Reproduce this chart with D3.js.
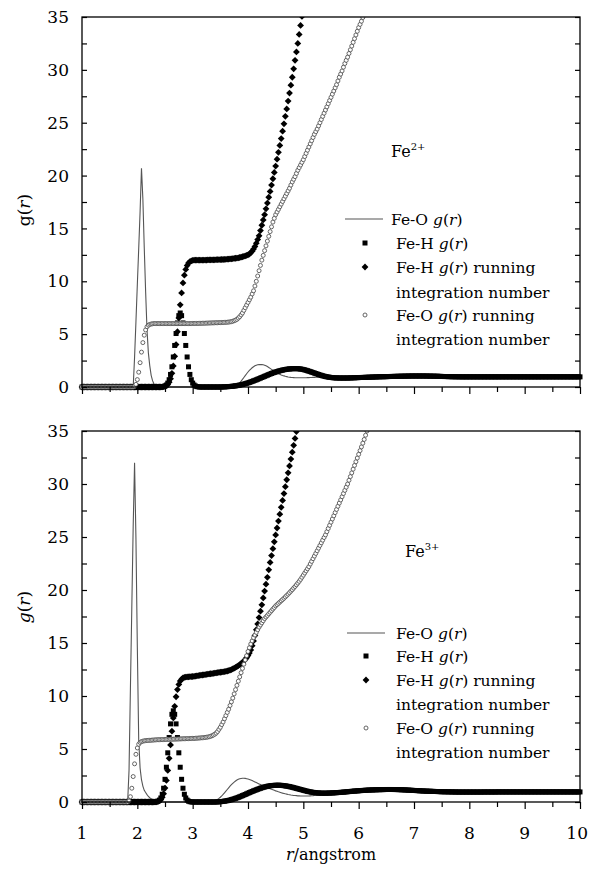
<!DOCTYPE html>
<html>
<head>
<meta charset="utf-8">
<script src="https://cdn.jsdelivr.net/npm/d3@7"></script>
<style>
  body { margin: 0; background: #fff; }
  svg { display: block; }
</style>
</head>
<body>
<svg width="589" height="869"></svg>
<script>
// r grid: r = rStart + i * rStep
var rStart = 1, rStep = 0.025;
var xTicks = [1, 2, 3, 4, 5, 6, 7, 8, 9, 10];
var yTicks = [0, 5, 10, 15, 20, 25, 30, 35];

// ---- Fe2+ panel ----
var fe2_FeO_g = [
  0,0,0,0,0,0,0,0,0,0,0,0,0,0,0,0,0,0,0,0,
  0,0,0,0,0,0,0,0,0,0,0,0,0,0,0,0,0,0,2.8,6.2,
  9.7,13.1,16.6,20.7,17.8,13.2,9.0,5.4,3.2,2.0,1.1,0.6,0.3,0.15,0.05,0.02,0,0,0,0,
  0,0,0,0,0,0,0,0,0,0,0,0,0,0,0,0,0,0,0,0,
  0,0,0,0,0,0,0,0,0,0,0,0,0,0,0,0,0,0,0,0,
  0,0,0,0,0,0,0,0,0,0.02,0.05,0.1,0.17,0.27,0.4,0.55,0.72,0.9,1.08,1.25,
  1.42,1.57,1.7,1.82,1.92,2.0,2.06,2.1,2.12,2.13,2.12,2.1,2.06,2.0,1.93,1.85,1.76,1.67,1.58,1.49,
  1.41,1.33,1.26,1.2,1.14,1.09,1.05,1.01,0.98,0.95,0.93,0.91,0.9,0.89,0.88,0.88,0.87,0.87,0.87,0.87,
  0.87,0.88,0.88,0.89,0.89,0.9,0.9,0.91,0.91,0.92,0.92,0.93,0.93,0.93,0.94,0.94,0.94,0.95,0.95,0.95,
  0.95,0.95,0.95,0.96,0.96,0.96,0.96,0.96,0.97,0.97,0.97,0.97,0.97,0.97,0.98,0.98,0.98,0.98,0.98,0.98,
  0.98,0.98,0.98,0.98,0.98,0.98,0.98,0.98,0.98,0.98,0.99,0.99,0.99,0.99,0.99,0.99,0.99,0.99,0.99,0.99,
  0.99,0.99,0.99,0.99,0.99,0.99,0.99,0.99,0.99,0.99,0.99,0.99,0.99,0.99,0.99,0.99,0.99,0.99,0.99,0.99,
  0.99,0.99,0.99,0.99,0.99,0.99,0.99,0.99,0.99,0.99,0.98,0.98,0.98,0.98,0.98,0.98,0.98,0.98,0.98,0.98,
  0.97,0.97,0.97,0.97,0.97,0.97,0.97,0.97,0.97,0.97,0.97,0.97,0.97,0.97,0.97,0.97,0.97,0.97,0.97,0.97,
  0.97,0.97,0.97,0.97,0.97,0.97,0.97,0.97,0.97,0.97,0.97,0.97,0.97,0.97,0.97,0.97,0.97,0.97,0.97,0.97,
  0.97,0.97,0.97,0.97,0.97,0.97,0.97,0.97,0.97,0.97,0.97,0.97,0.97,0.97,0.97,0.97,0.97,0.97,0.97,0.97,
  0.97,0.97,0.97,0.97,0.97,0.97,0.97,0.97,0.97,0.97,0.97,0.97,0.97,0.97,0.97,0.97,0.97,0.97,0.97,0.97,
  0.97,0.97,0.97,0.97,0.97,0.97,0.97,0.97,0.97,0.97,0.97,0.97,0.97,0.97,0.97,0.97,0.97,0.97,0.97,0.97,
  0.97
];
var fe2_FeH_g = [
  0,0,0,0,0,0,0,0,0,0,0,0,0,0,0,0,0,0,0,0,
  0,0,0,0,0,0,0,0,0,0,0,0,0,0,0,0,0,0,0,0,
  0,0,0,0,0,0,0,0,0,0,0,0,0,0,0,0,0,0,0.02,0.04,
  0.09,0.19,0.37,0.69,1.19,1.91,2.84,3.93,5.06,6.06,6.75,7.0,6.75,6.06,5.06,3.93,2.84,1.91,1.19,0.69,
  0.37,0.19,0.09,0.04,0.02,0,0,0,0,0,0,0,0,0,0,0,0,0,0,0,
  0,0.005,0.01,0.015,0.02,0.03,0.04,0.05,0.06,0.075,0.09,0.11,0.13,0.155,0.18,0.21,0.24,0.275,0.31,0.35,
  0.39,0.435,0.48,0.53,0.58,0.63,0.68,0.735,0.79,0.845,0.9,0.955,1.01,1.065,1.12,1.175,1.23,1.28,1.33,1.375,
  1.42,1.46,1.5,1.535,1.57,1.6,1.63,1.655,1.68,1.695,1.71,1.72,1.73,1.735,1.74,1.735,1.73,1.72,1.7,1.68,
  1.65,1.62,1.58,1.54,1.5,1.455,1.41,1.365,1.32,1.275,1.23,1.185,1.14,1.1,1.06,1.025,0.99,0.965,0.94,0.92,
  0.9,0.885,0.87,0.865,0.86,0.855,0.85,0.85,0.85,0.85,0.85,0.85,0.85,0.855,0.86,0.865,0.87,0.875,0.88,0.885,
  0.89,0.9,0.9,0.905,0.91,0.915,0.92,0.925,0.93,0.935,0.94,0.945,0.95,0.955,0.96,0.965,0.97,0.97,0.975,0.975,
  0.98,0.985,0.99,0.995,1.0,1.0,1.005,1.01,1.01,1.015,1.02,1.02,1.025,1.025,1.03,1.03,1.035,1.035,1.04,1.04,
  1.04,1.04,1.04,1.04,1.04,1.04,1.04,1.04,1.04,1.035,1.035,1.03,1.03,1.025,1.025,1.02,1.02,1.015,1.01,1.005,
  1.0,0.995,0.99,0.99,0.985,0.98,0.98,0.975,0.97,0.97,0.97,0.965,0.965,0.965,0.96,0.96,0.96,0.96,0.96,0.96,
  0.96,0.96,0.96,0.96,0.96,0.96,0.96,0.96,0.96,0.96,0.96,0.96,0.96,0.96,0.96,0.96,0.96,0.96,0.96,0.96,
  0.96,0.96,0.96,0.96,0.96,0.96,0.96,0.96,0.96,0.96,0.96,0.96,0.96,0.96,0.96,0.96,0.96,0.96,0.96,0.96,
  0.96,0.96,0.96,0.96,0.96,0.96,0.96,0.96,0.96,0.96,0.96,0.96,0.96,0.96,0.96,0.96,0.96,0.96,0.96,0.96,
  0.96,0.96,0.96,0.96,0.96,0.96,0.96,0.96,0.96,0.96,0.96,0.96,0.96,0.96,0.96,0.96,0.96,0.96,0.96,0.96,
  0.96
];
var fe2_FeH_n = [
  0,0,0,0,0,0,0,0,0,0,0,0,0,0,0,0,0,0,0,0,
  0,0,0,0,0,0,0,0,0,0,0,0,0,0,0,0,0,0,0,0,
  0,0,0,0,0,0,0,0,0,0,0,0,0,0,0,0,0,0,0.01,0.03,
  0.06,0.12,0.25,0.46,0.79,1.29,1.99,2.9,4.01,5.23,6.53,7.77,8.9,9.84,10.58,11.12,11.49,11.72,11.86,11.93,
  11.97,12.0,12.0,12.0,12.0,12.0,12.0,12.0,12.01,12.01,12.01,12.02,12.02,12.02,12.03,12.03,12.03,12.04,12.04,12.05,
  12.05,12.06,12.06,12.07,12.08,12.09,12.1,12.11,12.12,12.14,12.16,12.18,12.2,12.22,12.25,12.28,12.32,12.36,12.4,12.45,
  12.5,12.58,12.7,12.85,13.05,13.3,13.6,13.95,14.3,14.8,15.3,15.8,16.3,16.85,17.4,17.95,18.5,19.1,19.7,20.3,
  20.9,21.55,22.2,22.85,23.5,24.2,24.9,25.6,26.3,27.05,27.8,28.55,29.3,30.1,30.9,31.7,32.5,33.35,34.2,35.05,
  35.9
];
var fe2_FeO_n = [
  0,0,0,0,0,0,0,0,0,0,0,0,0,0,0,0,0,0,0,0,
  0,0,0,0,0,0,0,0,0,0,0,0,0,0,0,0,0,0,0.05,0.25,
  0.7,1.4,2.3,3.3,4.2,4.9,5.4,5.7,5.85,5.92,5.96,5.98,6.0,6.0,6.0,6.0,6.0,6.0,6.0,6.0,
  6.0,6.0,6.0,6.0,6.0,6.0,6.0,6.0,6.0,6.0,6.0,6.0,6.0,6.0,6.0,6.0,6.0,6.0,6.0,6.0,
  6.01,6.01,6.01,6.02,6.02,6.02,6.03,6.03,6.03,6.04,6.04,6.05,6.05,6.06,6.06,6.07,6.07,6.08,6.08,6.09,
  6.09,6.1,6.1,6.11,6.12,6.13,6.14,6.16,6.18,6.22,6.27,6.33,6.4,6.52,6.65,6.82,7.0,7.25,7.5,7.75,
  8.0,8.25,8.5,8.8,9.1,9.55,10.0,10.5,11.0,11.5,12.0,12.45,12.9,13.35,13.8,14.25,14.7,15.15,15.6,15.95,
  16.3,16.55,16.8,17.05,17.3,17.55,17.8,18.05,18.3,18.55,18.8,19.1,19.4,19.65,19.9,20.2,20.5,20.75,21.0,21.25,
  21.5,21.8,22.1,22.4,22.7,23.0,23.3,23.6,23.9,24.15,24.4,24.7,25.0,25.3,25.6,25.9,26.2,26.5,26.8,27.1,
  27.4,27.7,28.0,28.3,28.6,28.95,29.3,29.6,29.9,30.25,30.6,30.9,31.2,31.55,31.9,32.25,32.6,32.95,33.3,33.65,
  34.0,34.3,34.6,34.95,35.3
];

// ---- Fe3+ panel ----
var fe3_FeO_g = [
  0,0,0,0,0,0,0,0,0,0,0,0,0,0,0,0,0,0,0,0,
  0,0,0,0,0,0,0,0,0,0,0,0,0,0,3.0,10.7,18.3,26.0,32.0,24.8,
  14.6,5.8,3.2,2.1,1.5,1.1,0.9,0.7,0.52,0.4,0.3,0.22,0.15,0.1,0.06,0.03,0.01,0,0,0,
  0,0,0,0,0,0,0,0,0,0,0,0,0,0,0,0,0,0,0,0,
  0,0,0,0,0,0,0,0,0,0,0,0,0,0,0.02,0.05,0.1,0.16,0.24,0.34,
  0.45,0.58,0.72,0.87,1.02,1.18,1.34,1.49,1.63,1.76,1.88,1.98,2.07,2.14,2.19,2.22,2.24,2.24,2.23,2.2,
  2.17,2.13,2.08,2.02,1.95,1.89,1.83,1.76,1.7,1.64,1.58,1.53,1.47,1.41,1.36,1.3,1.25,1.2,1.15,1.1,
  1.05,1.01,0.96,0.92,0.88,0.84,0.81,0.77,0.74,0.71,0.69,0.66,0.64,0.62,0.61,0.6,0.58,0.58,0.57,0.57,
  0.56,0.56,0.56,0.57,0.57,0.58,0.59,0.6,0.62,0.63,0.65,0.67,0.69,0.71,0.73,0.75,0.77,0.79,0.81,0.83,
  0.85,0.87,0.88,0.9,0.91,0.93,0.94,0.95,0.96,0.97,0.98,0.99,1.0,1.0,1.01,1.01,1.02,1.02,1.02,1.03,
  1.03,1.03,1.03,1.03,1.03,1.03,1.03,1.03,1.03,1.03,1.02,1.02,1.02,1.02,1.02,1.02,1.02,1.02,1.02,1.02,
  1.01,1.01,1.01,1.01,1.01,1.01,1.01,1.01,1.01,1.01,1.0,1.0,1.0,1.0,1.0,1.0,1.0,1.0,1.0,1.0,
  0.99,0.99,0.99,0.99,0.99,0.99,0.99,0.99,0.99,0.99,0.99,0.99,0.99,0.99,0.99,0.99,0.99,0.99,0.99,0.99,
  0.98,0.98,0.98,0.98,0.98,0.98,0.98,0.98,0.98,0.98,0.98,0.98,0.98,0.98,0.98,0.98,0.98,0.98,0.98,0.98,
  0.97,0.97,0.97,0.97,0.97,0.97,0.97,0.97,0.97,0.97,0.97,0.97,0.97,0.97,0.97,0.97,0.97,0.97,0.97,0.97,
  0.97,0.97,0.97,0.97,0.97,0.97,0.97,0.97,0.97,0.97,0.97,0.97,0.97,0.97,0.97,0.97,0.97,0.97,0.97,0.97,
  0.97,0.97,0.97,0.97,0.97,0.97,0.97,0.97,0.97,0.97,0.97,0.97,0.97,0.97,0.97,0.97,0.97,0.97,0.97,0.97,
  0.97,0.97,0.97,0.97,0.97,0.97,0.97,0.97,0.97,0.97,0.97,0.97,0.97,0.97,0.97,0.97,0.97,0.97,0.97,0.97,
  0.97
];
var fe3_FeH_g = [
  0,0,0,0,0,0,0,0,0,0,0,0,0,0,0,0,0,0,0,0,
  0,0,0,0,0,0,0,0,0,0,0,0,0,0,0,0,0,0,0,0,
  0,0,0,0,0,0,0,0,0,0,0,0,0,0.01,0.03,0.08,0.18,0.38,0.73,1.3,
  2.14,3.28,4.64,6.08,7.37,8.27,8.6,8.27,7.37,6.08,4.64,3.28,2.14,1.3,0.73,0.38,0.18,0.08,0.03,0.01,
  0,0,0,0,0,0,0,0,0,0,0,0,0,0,0,0,0,0.005,0.01,0.02,
  0.03,0.045,0.06,0.08,0.1,0.125,0.15,0.185,0.22,0.26,0.3,0.345,0.39,0.44,0.49,0.545,0.6,0.655,0.71,0.77,
  0.83,0.885,0.94,0.995,1.05,1.1,1.15,1.2,1.25,1.295,1.34,1.38,1.42,1.45,1.48,1.505,1.53,1.545,1.56,1.57,
  1.58,1.58,1.58,1.58,1.57,1.555,1.54,1.52,1.5,1.475,1.45,1.42,1.39,1.355,1.32,1.285,1.25,1.215,1.18,1.145,
  1.11,1.075,1.04,1.01,0.98,0.955,0.93,0.91,0.89,0.875,0.86,0.85,0.84,0.835,0.83,0.83,0.83,0.835,0.84,0.845,
  0.85,0.857,0.865,0.872,0.88,0.89,0.9,0.91,0.92,0.932,0.945,0.957,0.97,0.982,0.995,1.007,1.02,1.03,1.04,1.05,
  1.06,1.07,1.08,1.09,1.1,1.107,1.115,1.122,1.13,1.135,1.14,1.145,1.15,1.155,1.16,1.163,1.166,1.169,1.172,1.176,
  1.18,1.18,1.18,1.18,1.18,1.178,1.176,1.174,1.172,1.166,1.16,1.155,1.15,1.143,1.135,1.128,1.12,1.112,1.105,1.097,
  1.09,1.082,1.075,1.067,1.06,1.052,1.045,1.037,1.03,1.025,1.02,1.015,1.01,1.005,1.0,0.995,0.99,0.985,0.98,0.975,
  0.97,0.967,0.965,0.962,0.96,0.957,0.955,0.952,0.95,0.947,0.945,0.942,0.94,0.94,0.94,0.94,0.94,0.94,0.94,0.94,
  0.94,0.94,0.94,0.94,0.94,0.94,0.94,0.94,0.94,0.94,0.945,0.945,0.945,0.945,0.945,0.945,0.945,0.945,0.945,0.945,
  0.95,0.95,0.95,0.95,0.95,0.95,0.95,0.95,0.95,0.95,0.95,0.95,0.95,0.95,0.95,0.95,0.95,0.95,0.95,0.95,
  0.95,0.95,0.95,0.95,0.95,0.95,0.95,0.95,0.95,0.95,0.95,0.95,0.95,0.95,0.95,0.95,0.95,0.95,0.95,0.95,
  0.95,0.95,0.95,0.95,0.95,0.95,0.95,0.95,0.95,0.95,0.95,0.95,0.95,0.95,0.95,0.95,0.95,0.95,0.95,0.95,
  0.95
];
var fe3_FeH_n = [
  0,0,0,0,0,0,0,0,0,0,0,0,0,0,0,0,0,0,0,0,
  0,0,0,0,0,0,0,0,0,0,0,0,0,0,0,0,0,0,0,0,
  0,0,0,0,0,0,0,0,0,0,0,0,0,0.01,0.02,0.05,0.12,0.23,0.44,0.79,
  1.31,2.04,2.98,4.12,5.38,6.68,7.93,9.03,9.93,10.61,11.09,11.41,11.59,11.7,11.76,11.78,11.8,11.81,11.82,11.83,
  11.84,11.86,11.88,11.9,11.92,11.94,11.96,11.98,12.0,12.02,12.04,12.06,12.08,12.1,12.12,12.14,12.16,12.18,12.2,12.22,
  12.24,12.26,12.28,12.3,12.33,12.36,12.4,12.44,12.49,12.55,12.62,12.7,12.78,12.86,12.95,13.05,13.17,13.3,13.45,13.62,
  13.82,14.05,14.35,14.75,15.2,15.7,16.25,16.8,17.4,18.0,18.6,19.25,19.9,20.55,21.2,21.9,22.6,23.25,23.9,24.55,
  25.2,25.85,26.5,27.15,27.8,28.45,29.1,29.75,30.4,31.05,31.7,32.35,33.0,33.65,34.3,34.95,35.6
];
var fe3_FeO_n = [
  0,0,0,0,0,0,0,0,0,0,0,0,0,0,0,0,0,0,0,0,
  0,0,0,0,0,0,0,0,0,0,0,0,0,0,0.1,0.5,1.3,2.4,3.6,4.5,
  5.1,5.45,5.62,5.7,5.74,5.77,5.79,5.8,5.81,5.82,5.83,5.84,5.85,5.86,5.87,5.87,5.88,5.88,5.89,5.89,
  5.9,5.9,5.91,5.91,5.92,5.92,5.93,5.93,5.94,5.94,5.95,5.95,5.96,5.96,5.97,5.97,5.98,5.98,5.99,5.99,
  6.0,6.0,6.01,6.02,6.03,6.04,6.05,6.06,6.07,6.09,6.11,6.13,6.16,6.2,6.25,6.32,6.4,6.5,6.65,6.85,
  7.05,7.3,7.55,7.85,8.15,8.45,8.75,9.1,9.45,9.8,10.2,10.6,11.0,11.4,11.8,12.2,12.6,13.0,13.4,13.8,
  14.2,14.55,14.9,15.2,15.5,15.75,16.0,16.25,16.5,16.7,16.9,17.1,17.3,17.45,17.6,17.75,17.9,18.05,18.2,18.35,
  18.5,18.62,18.74,18.86,18.98,19.1,19.22,19.35,19.48,19.61,19.75,19.89,20.03,20.18,20.33,20.49,20.65,20.82,21.0,21.2,
  21.4,21.6,21.8,22.0,22.2,22.45,22.7,22.95,23.2,23.45,23.7,23.95,24.2,24.45,24.7,24.95,25.2,25.5,25.8,26.1,
  26.4,26.7,27.0,27.3,27.6,27.9,28.2,28.5,28.8,29.1,29.4,29.7,30.0,30.35,30.7,31.05,31.4,31.75,32.1,32.45,
  32.8,33.15,33.5,33.85,34.2,34.6,35.0,35.4
];

var legendLabels = [
  ["Fe-O ", "g(r)", ""],
  ["Fe-H ", "g(r)", ""],
  ["Fe-H ", "g(r)", " running"],
  ["integration number"],
  ["Fe-O ", "g(r)", " running"],
  ["integration number"]
];

var serif = "DejaVu Serif";

var svg = d3.select("svg");
var left = 82, right = 580;

var x = d3.scaleLinear().domain([1, 10]).range([left, right]);

var panels = [
  { top: 17, bottom: 387, charge: "2+", ionX: 391, ionY: 157, titleY: 210, italicG: false,
    lineX: [345, 383], markX: 365, textX: [391, 396, 396, 396, 396, 396],
    rows: [219, 243, 267, 291.5, 315, 339],
    FeO_g: fe2_FeO_g, FeH_g: fe2_FeH_g, FeH_n: fe2_FeH_n, FeO_n: fe2_FeO_n, xLabels: false },
  { top: 431, bottom: 802, charge: "3+", ionX: 405, ionY: 557, titleY: 607, italicG: true,
    lineX: [347, 385], markX: 366, textX: [396, 396, 396, 396, 396, 396],
    rows: [633, 656, 680, 703.5, 728, 752],
    FeO_g: fe3_FeO_g, FeH_g: fe3_FeH_g, FeH_n: fe3_FeH_n, FeO_n: fe3_FeO_n, xLabels: true }
];

function toPoints(arr) {
  return arr.map(function(v, i) { return { r: rStart + i * rStep, v: v }; });
}

var diamond = d3.symbol().type(d3.symbolSquare).size(23);
var sq = 5;
var circR = 2.0;

panels.forEach(function(p, k) {
  var y = d3.scaleLinear().domain([0, 35]).range([p.bottom, p.top]);
  var g = svg.append("g");

  var clipId = "clip" + k;
  svg.append("clipPath").attr("id", clipId)
    .append("rect")
    .attr("x", left - 6).attr("y", p.top)
    .attr("width", right - left + 12).attr("height", p.bottom - p.top + 8);

  var plot = g.append("g").attr("clip-path", "url(#" + clipId + ")");

  // Fe-O g(r) line
  plot.append("path")
    .datum(toPoints(p.FeO_g))
    .attr("fill", "none")
    .attr("stroke", "#555")
    .attr("stroke-width", 1.1)
    .attr("d", d3.line().x(function(d) { return x(d.r); }).y(function(d) { return y(d.v); }));

  // Fe-H g(r) squares
  plot.append("g").selectAll("rect")
    .data(toPoints(p.FeH_g))
    .enter().append("rect")
    .attr("x", function(d) { return x(d.r) - sq / 2; })
    .attr("y", function(d) { return y(d.v) - sq / 2; })
    .attr("width", sq).attr("height", sq)
    .attr("fill", "#000");

  // Fe-H running integration number (diamonds)
  plot.append("g").selectAll("path")
    .data(toPoints(p.FeH_n))
    .enter().append("path")
    .attr("d", diamond)
    .attr("transform", function(d) { return "translate(" + x(d.r) + "," + y(d.v) + ") rotate(45)"; })
    .attr("fill", "#000");

  // Fe-O running integration number (open circles)
  plot.append("g").selectAll("circle")
    .data(toPoints(p.FeO_n))
    .enter().append("circle")
    .attr("cx", function(d) { return x(d.r); })
    .attr("cy", function(d) { return y(d.v); })
    .attr("r", circR)
    .attr("fill", "#fff")
    .attr("stroke", "#555")
    .attr("stroke-width", 0.9);

  // frame
  g.append("rect")
    .attr("x", left).attr("y", p.top)
    .attr("width", right - left).attr("height", p.bottom - p.top)
    .attr("fill", "none").attr("stroke", "#000").attr("stroke-width", 1.3);

  // y ticks, inward on both sides
  var yMinor = d3.range(0, 35.1, 2.5);
  g.append("g").attr("transform", "translate(" + left + ",0)")
    .call(d3.axisRight(y).tickValues(yMinor).tickSize(5).tickFormat(""))
    .call(function(s) { s.select(".domain").remove(); });
  g.append("g").attr("transform", "translate(" + right + ",0)")
    .call(d3.axisLeft(y).tickValues(yMinor).tickSize(5).tickFormat(""))
    .call(function(s) { s.select(".domain").remove(); });
  g.selectAll(".tick line").attr("stroke-width", 1.2);

  // x ticks, outward below
  var xa = g.append("g").attr("transform", "translate(0," + p.bottom + ")");
  xa.append("g").call(d3.axisBottom(x).tickValues(xTicks).tickSize(7).tickFormat(""))
    .call(function(s) { s.select(".domain").remove(); s.selectAll("line").attr("stroke-width", 1.2); });
  xa.append("g").call(d3.axisBottom(x).tickValues(d3.range(1.5, 10, 1)).tickSize(5).tickFormat(""))
    .call(function(s) { s.select(".domain").remove(); s.selectAll("line").attr("stroke-width", 1.2); });

  // y tick labels
  g.selectAll(".ylab").data(yTicks).enter().append("text")
    .attr("x", 69).attr("y", function(d) { return y(d); })
    .attr("dy", "0.36em")
    .attr("text-anchor", "end")
    .attr("font-family", serif).attr("font-size", 17)
    .text(function(d) { return d; });

  // x tick labels (bottom panel only); the last one is kept inside the page
  if (p.xLabels) {
    g.selectAll(".xlab").data(xTicks).enter().append("text")
      .attr("x", function(d) { return d === 10 ? 588 : x(d); }).attr("y", p.bottom + 37)
      .attr("text-anchor", function(d) { return d === 10 ? "end" : "middle"; })
      .attr("font-family", serif).attr("font-size", 17)
      .text(function(d) { return d; });
  }

  // y title
  var yt = g.append("text")
    .attr("transform", "translate(30," + p.titleY + ") rotate(-90)")
    .attr("text-anchor", "middle")
    .attr("font-family", serif).attr("font-size", 17);
  yt.append("tspan").attr("font-style", p.italicG ? "italic" : "normal").text("g");
  yt.append("tspan").text("(");
  yt.append("tspan").attr("font-style", "italic").text("r");
  yt.append("tspan").text(")");

  // ion label
  var ion = g.append("text").attr("x", p.ionX).attr("y", p.ionY)
    .attr("font-family", serif).attr("font-size", 16);
  ion.append("tspan").text("Fe");
  ion.append("tspan").attr("dy", -7).attr("font-size", 10).text(p.charge);

  // legend
  g.append("line")
    .attr("x1", p.lineX[0]).attr("x2", p.lineX[1])
    .attr("y1", p.rows[0]).attr("y2", p.rows[0])
    .attr("stroke", "#555").attr("stroke-width", 1.2);
  g.append("rect")
    .attr("x", p.markX - sq / 2).attr("y", p.rows[1] - sq / 2)
    .attr("width", sq).attr("height", sq).attr("fill", "#000");
  g.append("path").attr("d", diamond)
    .attr("transform", "translate(" + p.markX + "," + p.rows[2] + ") rotate(45)")
    .attr("fill", "#000");
  g.append("circle")
    .attr("cx", p.markX).attr("cy", p.rows[4]).attr("r", circR)
    .attr("fill", "#fff").attr("stroke", "#555").attr("stroke-width", 0.9);

  legendLabels.forEach(function(lab, i) {
    var t = g.append("text")
      .attr("x", p.textX[i]).attr("y", p.rows[i] + 6)
      .attr("font-family", serif).attr("font-size", 15.5);
    t.append("tspan").text(lab[0]);
    if (lab.length > 1) {
      t.append("tspan").attr("font-style", "italic").text("g");
      t.append("tspan").text("(");
      t.append("tspan").attr("font-style", "italic").text("r");
      t.append("tspan").text(")" + lab[2]);
    }
  });
});

// x axis title
var xt = svg.append("text")
  .attr("x", (left + right) / 2).attr("y", 860)
  .attr("text-anchor", "middle")
  .attr("font-family", serif).attr("font-size", 16);
xt.append("tspan").attr("font-style", "italic").text("r");
xt.append("tspan").text("/angstrom");
</script>
</body>
</html>
